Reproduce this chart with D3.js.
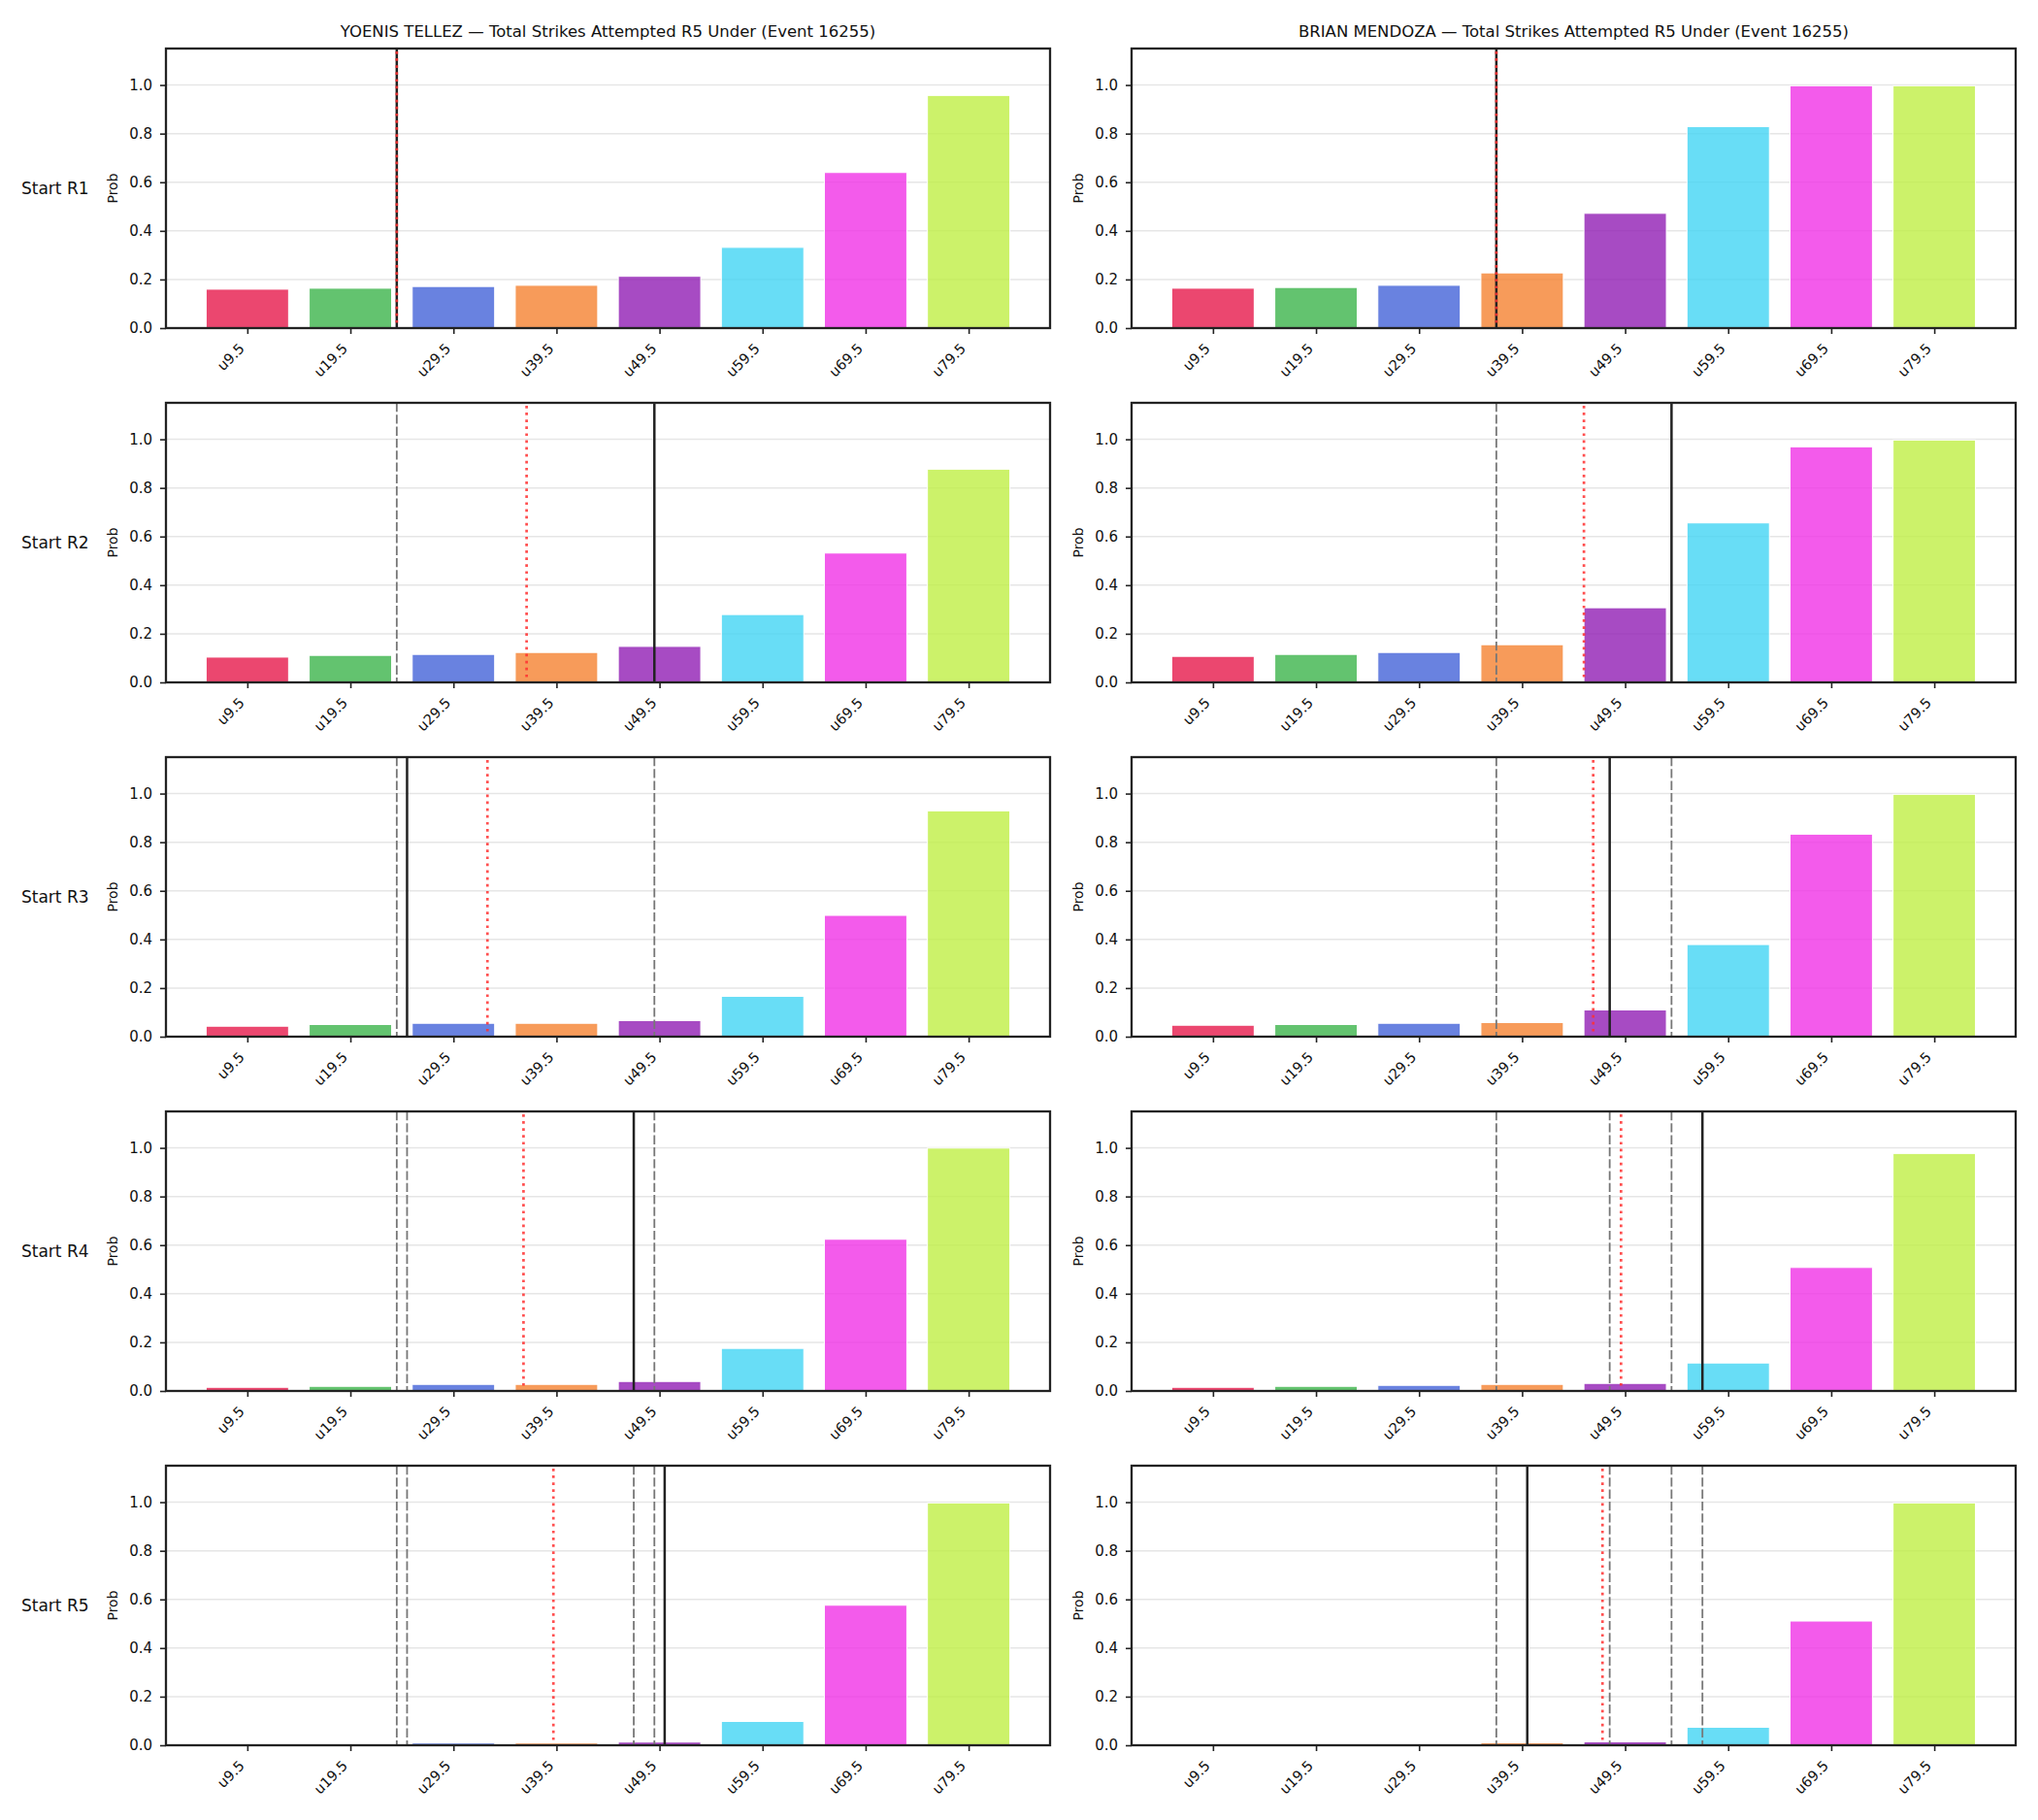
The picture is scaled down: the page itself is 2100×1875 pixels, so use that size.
<!DOCTYPE html>
<html>
<head>
<meta charset="utf-8">
<script src="https://cdn.jsdelivr.net/npm/d3@7"></script>
<style>
  body { margin: 0; background: #fff; }
  text { font-family: "DejaVu Sans", sans-serif; fill: #111; }
</style>
</head>
<body>
<div id="chart"></div>
<script>
// ---- data ----
var fighters = ["YOENIS TELLEZ", "BRIAN MENDOZA"];
var titleSuffix = " \u2014 Total Strikes Attempted R5 Under (Event 16255)";
var rounds = ["Start R1", "Start R2", "Start R3", "Start R4", "Start R5"];
var strikeLines = [9.5, 19.5, 29.5, 39.5, 49.5, 59.5, 69.5, 79.5];
var tickLabels = ["u9.5", "u19.5", "u29.5", "u39.5", "u49.5", "u59.5", "u69.5", "u79.5"];
var yTicks = [0, 0.2, 0.4, 0.6, 0.8, 1.0];
var barColors = ["#e6194b", "#3cb44b", "#4363d8", "#f58231", "#911eb4", "#42d4f4", "#f032e6", "#bfef45"];

var tellezProbs = [
  [0.160, 0.164, 0.171, 0.176, 0.213, 0.332, 0.640, 0.957],
  [0.104, 0.111, 0.115, 0.123, 0.148, 0.279, 0.532, 0.877],
  [0.043, 0.050, 0.055, 0.055, 0.066, 0.166, 0.499, 0.929],
  [0.015, 0.019, 0.027, 0.027, 0.039, 0.175, 0.624, 0.999],
  [0.001, 0.003, 0.009, 0.009, 0.013, 0.098, 0.576, 0.997]
];
var mendozaProbs = [
  [0.164, 0.167, 0.176, 0.227, 0.472, 0.829, 0.997, 0.997],
  [0.107, 0.115, 0.123, 0.155, 0.307, 0.656, 0.969, 0.997],
  [0.047, 0.050, 0.055, 0.058, 0.110, 0.379, 0.833, 0.997],
  [0.015, 0.019, 0.023, 0.027, 0.031, 0.115, 0.508, 0.977],
  [0.002, 0.003, 0.006, 0.010, 0.014, 0.074, 0.511, 0.997]
];
// solid black line = current pace, red dotted = projection
var tellezPace = [24, 49, 25, 47, 50];
var tellezProj = [24, 36.6, 32.8, 36.3, 39.2];
var mendozaPace = [37, 54, 48, 57, 40];
var mendozaProj = [37, 45.5, 46.4, 49.1, 47.3];

var allProbs = [tellezProbs, mendozaProbs];
var allPace = [tellezPace, mendozaPace];
var allProj = [tellezProj, mendozaProj];

// ---- layout ----
var W = 2100, H = 1875;
var panelLeft = [171, 1166],
    panelW = 911,
    panelTop = 50,
    rowStep = 365,
    panelH = 288;

var svg = d3.select("#chart").append("svg")
    .attr("width", W)
    .attr("height", H)
    .style("background", "#fff");

var x = d3.scaleLinear()
    .domain([9.5 - 7.9, 79.5 + 7.9])
    .range([0, panelW]);

var y = d3.scaleLinear()
    .domain([0, 1.15])
    .range([panelH, 0]);

var barW = x(8) - x(0);

// column titles
fighters.forEach(function(f, c) {
  svg.append("text")
      .attr("x", panelLeft[c] + panelW / 2)
      .attr("y", 38)
      .style("text-anchor", "middle")
      .style("font-size", "16.5px")
      .text(f + titleSuffix);
});

// row labels
rounds.forEach(function(r, i) {
  svg.append("text")
      .attr("x", 22)
      .attr("y", panelTop + i * rowStep + panelH / 2)
      .attr("dy", "0.35em")
      .style("font-size", "17px")
      .text(r);
});

rounds.forEach(function(r, i) {
  for (var c = 0; c < 2; c++) {
    var g = svg.append("g")
        .attr("transform", "translate(" + panelLeft[c] + "," + (panelTop + i * rowStep) + ")");

    // grid
    g.selectAll(".grid")
        .data(yTicks)
      .enter().append("line")
        .attr("class", "grid")
        .attr("x1", 0)
        .attr("x2", panelW)
        .attr("y1", function(d) { return y(d); })
        .attr("y2", function(d) { return y(d); })
        .style("stroke", "#e6e6e6")
        .style("stroke-width", 1.5);

    // bars
    g.selectAll(".bar")
        .data(allProbs[c][i])
      .enter().append("rect")
        .attr("class", "bar")
        .attr("x", function(d, k) { return x(strikeLines[k]) - barW / 2; })
        .attr("y", function(d) { return y(d); })
        .attr("width", barW)
        .attr("height", function(d) { return y(0) - y(d); })
        .style("fill", function(d, k) { return barColors[k]; })
        .style("fill-opacity", 0.8)
        .style("stroke", "#fff")
        .style("stroke-width", 1);

    // earlier rounds' pace lines (dashed)
    var prev = allPace[c].slice(0, i);
    g.selectAll(".prev")
        .data(prev)
      .enter().append("line")
        .attr("class", "prev")
        .attr("x1", function(d) { return x(d); })
        .attr("x2", function(d) { return x(d); })
        .attr("y1", 0)
        .attr("y2", panelH)
        .style("stroke", "#777")
        .style("stroke-width", 1.8)
        .style("stroke-dasharray", "9.3,3");

    // current pace
    g.append("line")
        .attr("x1", x(allPace[c][i]))
        .attr("x2", x(allPace[c][i]))
        .attr("y1", 0)
        .attr("y2", panelH)
        .style("stroke", "#222")
        .style("stroke-width", 2.5);

    // projection
    g.append("line")
        .attr("x1", x(allProj[c][i]))
        .attr("x2", x(allProj[c][i]))
        .attr("y1", 3)
        .attr("y2", panelH)
        .style("stroke", "#ff3030")
        .style("stroke-opacity", 0.85)
        .style("stroke-width", 2.7)
        .style("stroke-dasharray", "2.7,4.4");

    // axes
    var yAxis = d3.axisLeft(y)
        .tickValues(yTicks)
        .tickSize(6)
        .tickPadding(8)
        .tickFormat(d3.format(".1f"));

    var xAxis = d3.axisBottom(x)
        .tickValues(strikeLines)
        .tickSize(6)
        .tickFormat(function(d, k) { return tickLabels[k]; });

    var ya = g.append("g").call(yAxis);
    ya.select(".domain").remove();
    ya.selectAll("line").style("stroke", "#222").style("stroke-width", 1.6);
    ya.selectAll("text").style("font-size", "15px").style("fill", "#111");

    var xa = g.append("g")
        .attr("transform", "translate(0," + panelH + ")")
        .call(xAxis);
    xa.select(".domain").remove();
    xa.selectAll("line").style("stroke", "#222").style("stroke-width", 1.6);
    xa.selectAll("text")
        .style("font-size", "14.5px")
        .style("fill", "#111")
        .style("text-anchor", "end")
        .attr("x", 0)
        .attr("y", 0)
        .attr("dy", 0)
        .attr("transform", "translate(-2.5,22) rotate(-45)");

    // frame
    g.append("rect")
        .attr("width", panelW)
        .attr("height", panelH)
        .style("fill", "none")
        .style("stroke", "#222")
        .style("stroke-width", 2.3);

    // y label
    g.append("text")
        .attr("transform", "rotate(-90)")
        .attr("x", -panelH / 2)
        .attr("y", -50)
        .style("text-anchor", "middle")
        .style("font-size", "14px")
        .text("Prob");
  }
});
</script>
</body>
</html>
